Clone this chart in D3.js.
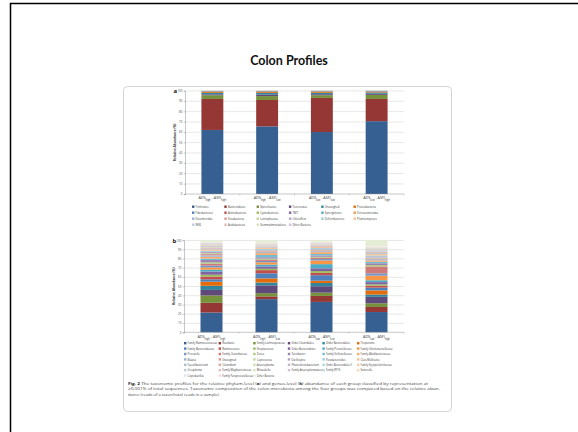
<!DOCTYPE html>
<html>
<head>
<meta charset="utf-8">
<script src="https://cdn.jsdelivr.net/npm/d3@7"></script>
<style>
  html, body { margin: 0; padding: 0; background: #ffffff; }
  svg { display: block; }
</style>
</head>
<body>
<svg id="slide" width="578" height="432"></svg>
<script>
// ---- Data -------------------------------------------------------------
const groups = ["ADS_high - ASFI_high", "ADS_high - ASFI_low", "ADS_low - ASFI_low", "ADS_low - ASFI_high"];
const yTicks = [0, 10, 20, 30, 40, 50, 60, 70, 80, 90, 100];

// (a) phylum level, relative abundance (%) per group
const phylumNames = [
  "Firmicutes", "Bacteroidetes", "Spirochaetes", "Tenericutes", "Unassigned", "Proteobacteria",
  "Fibrobacteres", "Actinobacteria", "Cyanobacteria", "TM7", "Synergistetes", "Verrucomicrobia",
  "Elusimicrobia", "Fusobacteria", "Lentisphaerae", "Chloroflexi", "Deferribacteres", "Planctomycetes",
  "WS6", "Acidobacteria", "Gemmatimonadetes", "Other Bacteria"
];
const phylumHighHigh = [62.0, 30.0, 3.6, 0.9, 1.4, 0.8, 0.4, 0.3, 0.2, 0.1, 0.1, 0.05, 0.03, 0.02, 0.02, 0.01, 0.01, 0.01, 0.01, 0.01, 0.0, 0.05];
const phylumHighLow  = [65.5, 25.5, 3.8, 1.6, 1.5, 0.8, 0.5, 0.3, 0.2, 0.1, 0.1, 0.05, 0.01, 0.01, 0.01, 0.01, 0.0, 0.0, 0.0, 0.0, 0.0, 0.01];
const phylumLowLow   = [60.0, 33.0, 2.6, 1.0, 1.4, 0.8, 0.4, 0.3, 0.2, 0.1, 0.1, 0.05, 0.01, 0.01, 0.01, 0.01, 0.0, 0.0, 0.0, 0.0, 0.0, 0.01];
const phylumLowHigh  = [70.5, 21.5, 4.0, 1.0, 1.3, 0.7, 0.4, 0.2, 0.1, 0.1, 0.1, 0.05, 0.01, 0.01, 0.01, 0.01, 0.0, 0.0, 0.0, 0.0, 0.0, 0.01];

// (b) genus level, relative abundance (%) per group
const genusNames = [
  "Family Ruminococcaceae", "Roseburia", "Family Lachnospiraceae", "Order Clostridiales", "Order Bacteroidales", "Treponema",
  "Family Bacteroidaceae", "Ruminococcus", "Streptococcus", "Order Bacteroidetes", "Family Prevotellaceae", "Family Christensenellaceae",
  "Prevotella", "Family Clostridiaceae", "Dorea", "Turicibacter", "Family Veillonellaceae", "Family Alkalibacteriaceae",
  "Blautia", "Unassigned", "Coprococcus", "Oscillospira", "Parabacteroides", "Class Mollicutes",
  "Faecalibacterium", "Clostridium", "Anaeroplasma", "Phascolarctobacterium", "Order Bacteroidales II", "Family Erysipelotrichaceae",
  "Ureaplasma", "Family Mogibacteriaceae", "Mitsuokella", "Family Anaeroplasmataceae", "Family RF16", "Sutterella",
  "Coprobacillus", "Family Paraprevotellaceae", "Other Bacteria"
];
const genusHighHigh = [21.5, 10.5, 8.0, 6.0, 4.5, 4.5,  2.5, 3.0, 2.0, 3.5, 2.0, 2.5,  2.0, 2.0, 1.5, 2.5, 1.5, 2.0,  1.5, 1.5, 1.0, 1.5, 1.0, 1.5,  1.0, 1.0, 0.8, 0.8, 0.6, 0.8,  0.5, 0.5, 0.4, 0.3, 0.4, 0.4,  0.3, 0.4, 1.8];
const genusHighLow  = [36.0, 3.0, 3.5, 8.5, 3.0, 4.5,   5.5, 3.5, 1.5, 2.5, 2.0, 2.5,  1.5, 1.5, 1.0, 1.5, 2.5, 2.0,  1.0, 1.0, 0.8, 1.0, 0.8, 1.2,  0.6, 0.6, 0.5, 0.5, 0.4, 0.5,  0.3, 0.3, 0.3, 0.3, 0.3, 0.3,  0.2, 0.3, 2.8];
const genusLowLow   = [33.0, 6.5, 3.5, 7.0, 3.5, 2.5,   6.0, 2.5, 2.0, 3.0, 4.5, 4.0,  1.5, 1.5, 1.0, 1.5, 1.5, 2.0,  1.0, 1.0, 0.8, 1.0, 0.8, 1.0,  0.6, 0.7, 0.5, 0.5, 0.4, 0.5,  0.3, 0.4, 0.3, 0.3, 0.3, 0.3,  0.2, 0.3, 1.8];
const genusLowHigh  = [22.0, 5.5, 4.0, 7.0, 2.5, 4.5,   3.0, 2.0, 1.5, 2.5, 2.0, 5.0,  2.5, 7.5, 1.5, 2.0, 1.5, 1.5,  1.2, 1.0, 1.0, 1.2, 1.0, 1.5,  1.0, 1.0, 0.8, 0.8, 0.6, 0.8,  0.5, 0.5, 0.4, 0.4, 0.4, 0.4,  0.3, 0.5, 6.7];

const captionLines = [
  [["Fig. 2", true], ["  The taxonomic profiles for the relative phylum-level (", false], ["a", true], [") and genus-level (", false], ["b", true], [") abundance of each group classified by representation at", false]],
  [["\u22650.001% of total sequences. Taxonomic composition of the colon microbiota among the four groups was compared based on the relative abun-", false]],
  [["dance (reads of a taxon/total reads in a sample).", false]]
];

// Series colour families, repeated in lighter shades row by row
const shadeRows = [
  ["#376092", "#953735", "#76923C", "#5F497A", "#31859C", "#E46C0A"],
  ["#4F81BD", "#C0504D", "#9BBB59", "#8064A2", "#4BACC6", "#F79646"],
  ["#7396C8", "#CD7A78", "#AFC97A", "#9A86B6", "#72BDD0", "#F9AB6B"],
  ["#95B3D7", "#D99694", "#C3D69B", "#B3A2C7", "#93CDDD", "#FAC090"],
  ["#A7C0DE", "#E0A9A8", "#CFDEAE", "#C2B4D2", "#A9D7E4", "#FBCBA3"],
  ["#B9CDE5", "#E6B9B8", "#D7E4BD", "#CCC1DA", "#B7DEE8", "#FCD5B5"],
  ["#DCE6F2", "#F2DCDB", "#E4EDD3", "#E6E0EC", "#DBEEF4", "#FDEADA"]
];
const phylumShadeRows = [0, 1, 3, 5];

// ---- Drawing ----------------------------------------------------------
const svg = d3.select("#slide");
const FONT = "'Open Sans', 'Noto Sans', sans-serif";

// slide frame
svg.append("rect").attr("x", 10.5).attr("y", 3.5).attr("width", 620).attr("height", 470)
  .attr("fill", "#fff").attr("stroke", "#000").attr("stroke-width", 1.5);

svg.append("text").attr("x", 289).attr("y", 65).attr("text-anchor", "middle")
  .attr("font-family", "Lato, 'Open Sans', sans-serif").attr("font-weight", 700)
  .attr("font-size", 12.5).attr("fill", "#111").text("Colon Profiles");

// figure panel
svg.append("rect").attr("x", 123.5).attr("y", 86.5).attr("width", 328).attr("height", 325)
  .attr("rx", 4).attr("fill", "#fff").attr("stroke", "#cfcfcf").attr("stroke-width", 0.9);

const fig = svg.append("g");

// very small type is laid out at double size and scaled down by half
const HALF = 0.5;

function addLabel(sel, str) {
  // "_" marks a subscript part, e.g. ADS_high
  str.split(" ").forEach((p, k) => {
    const m = p.match(/^(\S+)_(\S+)$/);
    const lead = k > 0 ? " " : "";
    if (m) {
      sel.append("tspan").text(lead + m[1]);
      sel.append("tspan").attr("font-size", 5.2).attr("baseline-shift", "sub").text(m[2]);
    } else {
      sel.append("tspan").text(lead + p);
    }
  });
}

function drawChart(opt) {
  const { names, byGroup, shadeFor, top, bottom, left, right, letter, legend, catY } = opt;
  const g = fig.append("g");

  const x = d3.scaleBand().domain(groups).range([left, right]).paddingInner(0.6).paddingOuter(0.3);
  const y = d3.scaleLinear().domain([0, 100]).range([bottom, top]);

  // gridlines
  g.append("g").selectAll("line").data(yTicks.filter(t => t > 0)).join("line")
    .attr("x1", left).attr("x2", right)
    .attr("y1", d => y(d) + 0.25).attr("y2", d => y(d) + 0.25)
    .attr("stroke", "#d6d6d6").attr("stroke-width", 0.6);

  // stacked bars
  const rows = groups.map((gname, gi) => {
    const r = { group: gname };
    names.forEach((n, i) => { r[n] = byGroup[gi][i]; });
    return r;
  });
  const stacked = d3.stack().keys(names)(rows);
  g.append("g").selectAll("g").data(stacked).join("g")
    .attr("fill", (d, i) => shadeFor(i))
    .selectAll("rect").data(d => d).join("rect")
    .attr("x", d => x(d.data.group))
    .attr("width", x.bandwidth())
    .attr("y", d => y(d[1]))
    .attr("height", d => Math.max(0, y(d[0]) - y(d[1])));

  // y axis
  const ax = g.append("g").attr("transform", `translate(${left},0)`)
    .call(d3.axisLeft(y).tickValues(yTicks).tickSize(1.2).tickPadding(1.5));
  ax.select(".domain").attr("stroke", "#8c8c8c").attr("stroke-width", 0.5);
  ax.selectAll(".tick line").attr("stroke", "#8c8c8c").attr("stroke-width", 0.5);
  ax.selectAll(".tick text").attr("font-size", 2.8).attr("font-family", FONT).attr("fill", "#444");

  // x axis line and category separators
  g.append("line").attr("x1", left).attr("x2", right).attr("y1", bottom).attr("y2", bottom)
    .attr("stroke", "#8c8c8c").attr("stroke-width", 0.5);
  const seps = d3.range(groups.length + 1).map(i => left + i * (right - left) / groups.length);
  g.append("g").selectAll("line").data(seps).join("line")
    .attr("x1", d => d).attr("x2", d => d).attr("y1", bottom).attr("y2", bottom + 1.2)
    .attr("stroke", "#8c8c8c").attr("stroke-width", 0.5);

  g.append("g").selectAll("text").data(groups).join("text")
    .attr("transform", d => `translate(${x(d) + x.bandwidth() / 2},${catY}) scale(${HALF})`)
    .attr("text-anchor", "middle").attr("font-size", 7.4).attr("font-family", FONT).attr("fill", "#333")
    .each(function (d) { addLabel(d3.select(this), d); });

  // axis title and panel letter
  g.append("text")
    .attr("transform", `translate(${left - 9},${(top + bottom) / 2}) rotate(-90)`)
    .attr("text-anchor", "middle").attr("font-size", 3.2).attr("font-weight", 700)
    .attr("font-family", FONT).attr("fill", "#333").text("Relative Abundance (%)");
  g.append("text").attr("x", left - 11.5).attr("y", top + 2.6)
    .attr("font-size", 6).attr("font-weight", 700).attr("font-family", FONT).attr("fill", "#111").text(letter);

  // legend, filled row by row
  const lg = g.append("g").selectAll("g").data(names).join("g")
    .attr("transform", (d, i) => `translate(${legend.x0 + (i % 6) * legend.dx},${legend.y0 + Math.floor(i / 6) * legend.dy})`);
  lg.append("rect").attr("x", 0).attr("y", -1.3).attr("width", 2.4).attr("height", 2.4)
    .attr("fill", (d, i) => shadeFor(i));
  lg.append("text").attr("transform", `translate(3.6,1.0) scale(${HALF})`)
    .attr("font-size", legend.fs / HALF).attr("font-family", FONT)
    .attr("fill", "#333").text(d => d);
}

drawChart({
  names: phylumNames,
  byGroup: [phylumHighHigh, phylumHighLow, phylumLowLow, phylumLowHigh],
  shadeFor: i => shadeRows[phylumShadeRows[Math.floor(i / 6)]][i % 6],
  top: 90.7, bottom: 194, left: 185, right: 404, letter: "a", catY: 199.3,
  legend: { x0: 192, y0: 206.8, dx: 32.3, dy: 6, fs: 2.7 }
});

drawChart({
  names: genusNames,
  byGroup: [genusHighHigh, genusHighLow, genusLowLow, genusLowHigh],
  shadeFor: i => shadeRows[Math.floor(i / 6)][i % 6],
  top: 240.2, bottom: 332.3, left: 184, right: 404, letter: "b", catY: 337.6,
  legend: { x0: 184, y0: 343.3, dx: 34.6, dy: 5.4, fs: 2.55 }
});

// caption
const cap = fig.append("g");
const capWidths = [300, 312, null];
captionLines.forEach((line, li) => {
  const t = cap.append("text").attr("x", 128).attr("y", 385 + li * 5.4)
    .attr("font-size", 4.1).attr("font-family", FONT).attr("fill", "#444");
  if (capWidths[li]) t.attr("textLength", capWidths[li]).attr("lengthAdjust", "spacingAndGlyphs");
  line.forEach(([s, bold]) => {
    t.append("tspan").attr("font-weight", bold ? 700 : 400).attr("fill", bold ? "#222" : "#444").text(s);
  });
});
</script>
</body>
</html>
